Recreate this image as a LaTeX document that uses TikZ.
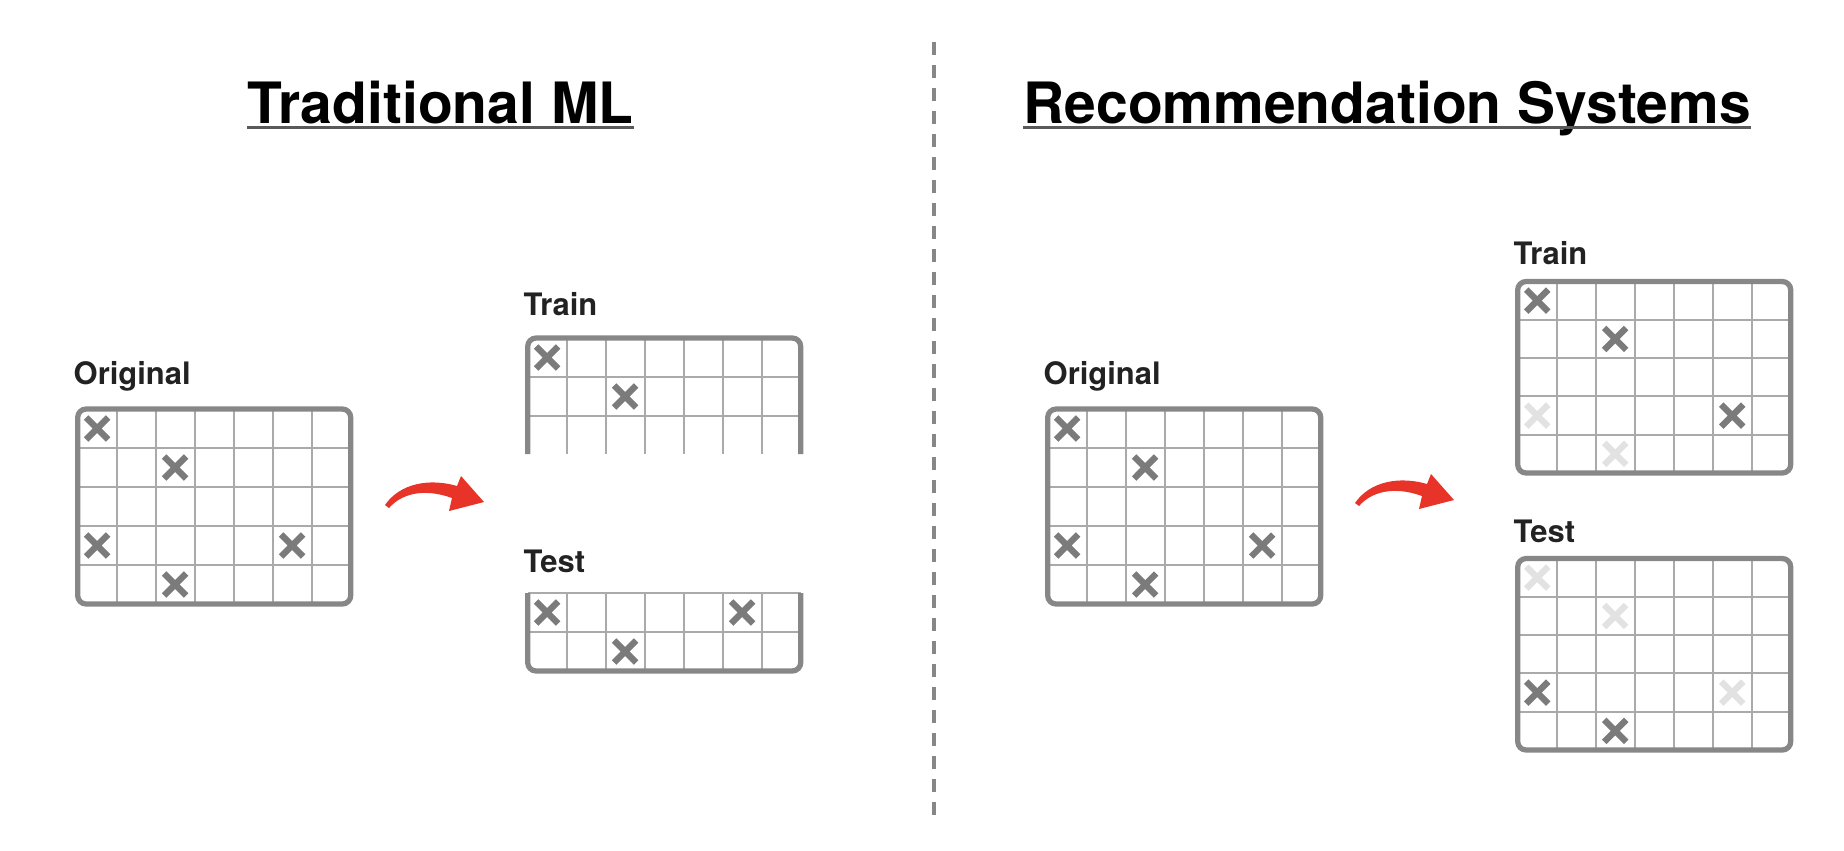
\documentclass[tikz,border=0pt]{standalone}
\usepackage{fontspec}
\setmainfont{TeX Gyre Heros}
\usepackage{tikz}
\definecolor{boxgray}{HTML}{878787}
\definecolor{gridgray}{HTML}{AAAAAA}
\definecolor{xdark}{HTML}{7B7B7B}
\definecolor{xlight}{HTML}{E2E2E2}
\definecolor{arrowred}{HTML}{E83428}
\definecolor{labelgray}{HTML}{222222}
\tikzset{
  gridline/.style={draw=gridgray, line width=0.6pt},
  boxline/.style={draw=boxgray, line width=1.5pt, rounded corners=2.4pt},
  xon/.style={draw=xdark, line width=1.8pt},
  xoff/.style={draw=xlight, line width=1.8pt},
  titletext/.style={anchor=base west, inner sep=0pt, font=\bfseries\fontsize{16.2}{19}\selectfont},
  boxlabel/.style={anchor=base west, inner sep=0pt, text=labelgray, font=\bfseries\fontsize{8.8}{10}\selectfont},
  uline/.style={draw=black!65, line width=0.85pt}
}
% cross in cell (col,row) of the current grid
\newcommand{\xcell}[3]{%
  \draw[#1] ({(#2-0.5)*\cw-11},{(#3-0.5)*\ch-11}) -- ++(22,22)
            ({(#2-0.5)*\cw-11},{(#3-0.5)*\ch+11}) -- ++(22,-22);}
% curved red arrow, tail at #1
\newcommand{\redarrow}[1]{%
  \fill[arrowred, shift={(#1)}] (0,0) .. controls (15,-22) and (45,-27) .. (72,-19)
    -- (76,-29) -- (99,-3) -- (64,6) -- (67,-7)
    .. controls (45,-15) and (20,-15) .. (4,3) -- cycle;}

\begin{document}
\begin{tikzpicture}[x=0.01cm, y=-0.01cm]
  \useasboundingbox (0,0) rectangle (1844,850);
  \def\cw{39}

  % titles
  \node[titletext] (ttrad) at (247,123) {Traditional ML};
  \node[titletext] (trec) at (1023,123) {Recommendation Systems};
  \draw[uline] ([yshift=-1.2pt]ttrad.base west) -- ([yshift=-1.2pt]ttrad.base east);
  \draw[uline] ([yshift=-1.2pt]trec.base west) -- ([yshift=-1.2pt]trec.base east);

  % divider
  \coordinate (dtop) at (934,42);
  \coordinate (dbot) at (934,817);
  \draw[boxgray, line width=1pt, dash pattern=on 3.7pt off 2.85pt] (dtop) -- (dbot);

  % box labels
  \node[boxlabel] (lorig) at (73,384) {Original};
  \node[boxlabel] (ltrain) at (523,315) {Train};
  \node[boxlabel] (ltest) at (523,572) {Test};
  \node[boxlabel] (rorig) at (1043,384) {Original};
  \node[boxlabel] (rtrain) at (1513,264) {Train};
  \node[boxlabel] (rtest) at (1513,542) {Test};

  % arrows
  \coordinate (arrL) at (385,505);
  \coordinate (arrR) at (1355,503);
  \redarrow{arrL}
  \redarrow{arrR}

  % left: original
  \begin{scope}[shift={(77.7,409)}]
    \def\ch{39}
    \foreach \i in {1,...,6} \draw[gridline] (\i*\cw,0) -- (\i*\cw,195);
    \foreach \j in {1,...,4} \draw[gridline] (0,\j*\ch) -- (273,\j*\ch);
    \xcell{xon}{1}{1} \xcell{xon}{3}{2} \xcell{xon}{1}{4} \xcell{xon}{6}{4} \xcell{xon}{3}{5}
    \draw[boxline] (0,0) rectangle (273,195);
  \end{scope}
  % left: train (cut at the bottom)
  \begin{scope}[shift={(527.7,338)}]
    \def\ch{39}
    \foreach \i in {1,...,6} \draw[gridline] (\i*\cw,0) -- (\i*\cw,116);
    \foreach \j in {1,2} \draw[gridline] (0,\j*\ch) -- (273,\j*\ch);
    \xcell{xon}{1}{1} \xcell{xon}{3}{2}
    \draw[boxline] (0,116) -- (0,0) -- (273,0) -- (273,116);
  \end{scope}
  % left: test (cut at the top)
  \begin{scope}[shift={(527.7,593)}]
    \def\ch{39}
    \foreach \i in {1,...,6} \draw[gridline] (\i*\cw,0) -- (\i*\cw,78);
    \foreach \j in {0,1} \draw[gridline] (0,\j*\ch) -- (273,\j*\ch);
    \xcell{xon}{1}{1} \xcell{xon}{6}{1} \xcell{xon}{3}{2}
    \draw[boxline] (0,0) -- (0,78) -- (273,78) -- (273,0);
  \end{scope}

  % right: original
  \begin{scope}[shift={(1047.7,409)}]
    \def\ch{39}
    \foreach \i in {1,...,6} \draw[gridline] (\i*\cw,0) -- (\i*\cw,195);
    \foreach \j in {1,...,4} \draw[gridline] (0,\j*\ch) -- (273,\j*\ch);
    \xcell{xon}{1}{1} \xcell{xon}{3}{2} \xcell{xon}{1}{4} \xcell{xon}{6}{4} \xcell{xon}{3}{5}
    \draw[boxline] (0,0) rectangle (273,195);
  \end{scope}
  % right: train
  \begin{scope}[shift={(1517.7,281.5)}]
    \def\ch{38.3}
    \foreach \i in {1,...,6} \draw[gridline] (\i*\cw,0) -- (\i*\cw,191.5);
    \foreach \j in {1,...,4} \draw[gridline] (0,\j*\ch) -- (273,\j*\ch);
    \xcell{xoff}{1}{4} \xcell{xoff}{3}{5}
    \xcell{xon}{1}{1} \xcell{xon}{3}{2} \xcell{xon}{6}{4}
    \draw[boxline] (0,0) rectangle (273,191.5);
  \end{scope}
  % right: test
  \begin{scope}[shift={(1517.7,558.5)}]
    \def\ch{38.3}
    \foreach \i in {1,...,6} \draw[gridline] (\i*\cw,0) -- (\i*\cw,191.5);
    \foreach \j in {1,...,4} \draw[gridline] (0,\j*\ch) -- (273,\j*\ch);
    \xcell{xoff}{1}{1} \xcell{xoff}{3}{2} \xcell{xoff}{6}{4}
    \xcell{xon}{1}{4} \xcell{xon}{3}{5}
    \draw[boxline] (0,0) rectangle (273,191.5);
  \end{scope}
\end{tikzpicture}
\end{document}
